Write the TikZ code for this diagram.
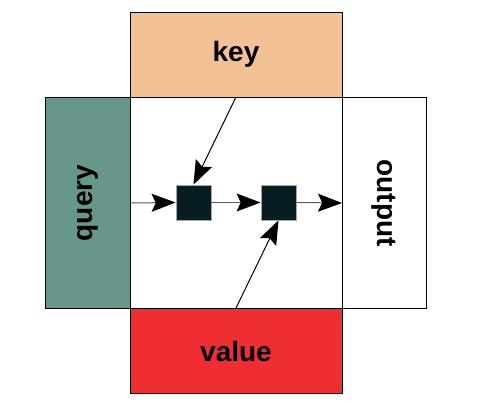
\documentclass[tikz,border=0pt]{standalone}
\usepackage{fontspec}
\setmainfont{Liberation Sans}
\usetikzlibrary{arrows.meta}
\definecolor{keyc}{HTML}{F4C196}
\definecolor{queryc}{HTML}{67968A}
\definecolor{valuec}{HTML}{EF2E33}
\definecolor{sqc}{HTML}{061E22}
\begin{document}
\begin{tikzpicture}[x=1pt,y=-1pt,
  box/.style={draw=black, line width=0.9pt},
  lbl/.style={font=\fontsize{28}{32}\selectfont\bfseries, text=black},
  sq/.style={draw=gray!70, fill=sqc, line width=0.8pt, minimum width=35pt, minimum height=35pt, inner sep=0pt},
  arr/.style={-{Stealth[scale=3.2,inset=1.3pt,black]}, line width=1pt}
]
\useasboundingbox (0,0) rectangle (496,403);
\fill[white] (0,0) rectangle (496,403);
\draw[box, fill=keyc] (130,12) rectangle (342,97);
\draw[box, fill=queryc] (45,97) rectangle (130,308);
\draw[box, fill=white] (342,97) rectangle (426,308);
\draw[box, fill=valuec] (130,308) rectangle (342,393);
\draw[box, fill=white] (130,97) rectangle (342,308);
\node[lbl] (key) at (236,54) {key};
\node[lbl, rotate=90] (query) at (88,203) {query};
\node[lbl, rotate=-90] (output) at (384,203) {output};
\node[lbl] (value) at (236,351) {value};
\coordinate (qin) at (130,203);
\coordinate (oout) at (342,203);
\coordinate (kin) at (236,97);
\coordinate (vin) at (236,308);
\node[sq] (s1) at (193.5,202.5) {};
\node[sq] (s2) at (278.5,202.5) {};
\draw[arr, draw=black!65] (qin) -- (s1.west);
\draw[arr, draw=black!65] (s1.east) -- (s2.west);
\draw[arr, draw=black!65] (s2.east) -- (oout);
\draw[arr] (kin) -- (s1.north);
\draw[arr] (vin) -- (s2.south);
\end{tikzpicture}
\end{document}
